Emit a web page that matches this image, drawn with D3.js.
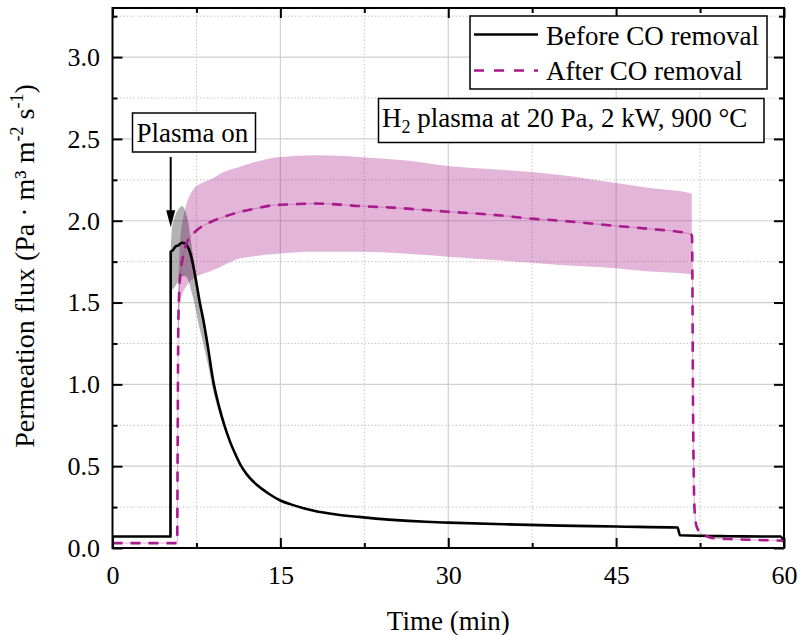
<!DOCTYPE html>
<html>
<head>
<meta charset="utf-8">
<script src="https://cdn.jsdelivr.net/npm/d3@7/dist/d3.min.js"></script>
<style>
  html, body { margin: 0; padding: 0; background: #fff; }
  svg { display: block; font-family: "Liberation Serif", "Times New Roman", serif; }
</style>
</head>
<body>
<svg id="chart" width="801" height="635"></svg>
<script>
// Permeation flux during H2 plasma exposure, before and after CO removal

// x-axis ticks (min) and y-axis ticks (Pa·m³·m⁻²·s⁻¹)
const xMajorTicks = [0, 15, 30, 45, 60];
const xMinorTicks = [7.5, 22.5, 37.5, 52.5];
const yMajorTicks = [0.0, 0.5, 1.0, 1.5, 2.0, 2.5, 3.0];
const yMinorTicks = [0.25, 0.75, 1.25, 1.75, 2.25, 2.75, 3.25];

// Before CO removal: mean flux
const beforeTime = [0, 5.18, 5.2, 5.4, 5.6, 5.9, 6.2, 6.5, 6.8, 7.0, 7.2, 7.5, 7.8, 8.1, 8.5, 9.0, 9.5, 10, 10.5, 11, 11.5, 12, 13, 14, 15, 16, 17, 18, 20, 22, 25, 28, 30, 35, 40, 45, 50.5, 50.6, 50.7, 55, 59.7, 60];
const beforeFlux = [0.07, 0.07, 1.81, 1.82, 1.84, 1.85, 1.865, 1.86, 1.83, 1.79, 1.73, 1.62, 1.50, 1.40, 1.24, 1.02, 0.87, 0.75, 0.65, 0.57, 0.50, 0.45, 0.38, 0.33, 0.29, 0.265, 0.245, 0.228, 0.205, 0.19, 0.172, 0.16, 0.155, 0.145, 0.137, 0.131, 0.125, 0.10, 0.078, 0.072, 0.07, 0.035];

// Before CO removal: spread band
const beforeBandTime  = [5.2, 5.3, 5.6, 5.9, 6.2, 6.5, 6.8, 7.0, 7.3, 7.6, 8.0, 8.5, 9.0, 9.5, 10, 10.5, 11];
const beforeBandUpper = [1.82, 1.95, 2.03, 2.07, 2.09, 2.06, 1.98, 1.88, 1.74, 1.60, 1.45, 1.26, 1.05, 0.89, 0.76, 0.655, 0.57];
const beforeBandLower = [1.60, 1.58, 1.60, 1.63, 1.66, 1.66, 1.63, 1.58, 1.50, 1.40, 1.28, 1.13, 0.96, 0.83, 0.73, 0.64, 0.57];

// After CO removal: mean flux
const afterTime = [0, 5.78, 5.82, 5.88, 5.97, 6.1, 6.27, 6.6, 6.93, 7.5, 8.86, 10, 11.4, 12.5, 14.4, 16, 18, 20, 22, 25, 30, 35, 37, 40, 45, 48, 51.6, 51.78, 51.82, 51.86, 51.94, 52.03, 52.2, 52.6, 53.0, 53.7, 55, 57, 60];
const afterFlux = [0.03, 0.03, 0.6, 1.35, 1.58, 1.69, 1.77, 1.86, 1.90, 1.94, 1.995, 2.025, 2.055, 2.07, 2.095, 2.10, 2.105, 2.10, 2.09, 2.08, 2.055, 2.03, 2.015, 2.0, 1.968, 1.95, 1.92, 1.91, 1.6, 1.0, 0.42, 0.21, 0.13, 0.09, 0.075, 0.06, 0.055, 0.05, 0.045];

// After CO removal: spread band
const afterBandTime  = [5.85, 5.97, 6.1, 6.27, 6.6, 6.93, 7.2, 8.0, 8.7, 10, 11.4, 12.3, 15, 18.2, 22, 26, 30, 35, 40, 45, 48, 51.5, 51.76];
const afterBandUpper = [1.55, 1.80, 1.92, 2.00, 2.10, 2.16, 2.19, 2.23, 2.25, 2.30, 2.33, 2.35, 2.39, 2.40, 2.39, 2.37, 2.335, 2.31, 2.28, 2.23, 2.20, 2.17, 2.165];
const afterBandLower = [1.25, 1.45, 1.52, 1.56, 1.60, 1.63, 1.645, 1.675, 1.69, 1.73, 1.77, 1.78, 1.80, 1.81, 1.81, 1.80, 1.78, 1.755, 1.73, 1.71, 1.69, 1.675, 1.67];

const seriesLabels = ["Before CO removal", "After CO removal"];
const purple = "#a8198a";

const svg = d3.select("#chart");
const W = 801, H = 635;
const plot = { left: 112.5, right: 784, top: 8, bottom: 548 };

const x = d3.scaleLinear().domain([0, 60]).range([plot.left, plot.right]);
const y = d3.scaleLinear().domain([0, 3.3]).range([plot.bottom, plot.top]);

svg.append("rect").attr("width", W).attr("height", H).attr("fill", "#fff");

// grid
const grid = svg.append("g");
grid.selectAll(".gxM").data(xMajorTicks.slice(1, -1)).join("line")
  .attr("x1", d => x(d)).attr("x2", d => x(d)).attr("y1", plot.top).attr("y2", plot.bottom)
  .attr("stroke", "#cfcfcf").attr("stroke-width", 1.2);
grid.selectAll(".gxm").data(xMinorTicks).join("line")
  .attr("x1", d => x(d)).attr("x2", d => x(d)).attr("y1", plot.top).attr("y2", plot.bottom)
  .attr("stroke", "#c4c4c4").attr("stroke-width", 1).attr("stroke-dasharray", "1.5,2");
grid.selectAll(".gyM").data(yMajorTicks.slice(1)).join("line")
  .attr("y1", d => y(d)).attr("y2", d => y(d)).attr("x1", plot.left).attr("x2", plot.right)
  .attr("stroke", "#cfcfcf").attr("stroke-width", 1.2);
grid.selectAll(".gym").data(yMinorTicks).join("line")
  .attr("y1", d => y(d)).attr("y2", d => y(d)).attr("x1", plot.left).attr("x2", plot.right)
  .attr("stroke", "#c4c4c4").attr("stroke-width", 1).attr("stroke-dasharray", "1.5,2");

// bands
const zip = (t, a, b) => t.map((v, i) => ({ t: v, lo: a[i], hi: b[i] }));
const band = d3.area().x(d => x(d.t)).y0(d => y(d.lo)).y1(d => y(d.hi)).curve(d3.curveMonotoneX);

svg.append("path").datum(zip(afterBandTime, afterBandLower, afterBandUpper))
  .attr("d", band).attr("fill", purple).attr("fill-opacity", 0.32);
svg.append("path").datum(zip(beforeBandTime, beforeBandLower, beforeBandUpper))
  .attr("d", band).attr("fill", "#000").attr("fill-opacity", 0.3);

// lines
const pts = (t, v) => t.map((d, i) => ({ t: d, v: v[i] }));
const line = d3.line().x(d => x(d.t)).y(d => y(d.v)).curve(d3.curveMonotoneX);

svg.append("path").datum(pts(afterTime, afterFlux))
  .attr("d", line).attr("fill", "none").attr("stroke", purple)
  .attr("stroke-opacity", 0.35).attr("stroke-width", 1);
svg.append("path").datum(pts(beforeTime, beforeFlux))
  .attr("d", line).attr("fill", "none").attr("stroke", "#000")
  .attr("stroke-width", 2.6).attr("stroke-linejoin", "round");
svg.append("path").datum(pts(afterTime, afterFlux))
  .attr("d", line).attr("fill", "none").attr("stroke", purple)
  .attr("stroke-width", 2.6).attr("stroke-dasharray", "10,8");

// axes with inward ticks on all four sides
function styleAxis(g) {
  g.select(".domain").remove();
  g.selectAll(".tick line").attr("stroke", "#000").attr("stroke-width", 2);
}
const bottomAxis = svg.append("g").attr("transform", `translate(0,${plot.bottom})`)
  .call(d3.axisBottom(x).tickValues(xMajorTicks).tickSize(-10).tickFormat(d3.format("d")));
bottomAxis.call(styleAxis);
bottomAxis.selectAll(".tick text").attr("y", 36).attr("dy", 0)
  .attr("font-size", 26).attr("font-family", "Liberation Serif").attr("fill", "#000");
svg.append("g").attr("transform", `translate(0,${plot.bottom})`)
  .call(d3.axisBottom(x).tickValues(xMinorTicks).tickSize(-5).tickFormat(""))
  .call(styleAxis);
svg.append("g").attr("transform", `translate(0,${plot.top})`)
  .call(d3.axisTop(x).tickValues(xMajorTicks).tickSize(-10).tickFormat(""))
  .call(styleAxis);
svg.append("g").attr("transform", `translate(0,${plot.top})`)
  .call(d3.axisTop(x).tickValues(xMinorTicks).tickSize(-5).tickFormat(""))
  .call(styleAxis);

const leftAxis = svg.append("g").attr("transform", `translate(${plot.left},0)`)
  .call(d3.axisLeft(y).tickValues(yMajorTicks).tickSize(-10).tickFormat(d3.format(".1f")));
leftAxis.call(styleAxis);
leftAxis.selectAll(".tick text").attr("x", -12.5).attr("dy", "0.32em")
  .attr("font-size", 26).attr("font-family", "Liberation Serif").attr("fill", "#000");
svg.append("g").attr("transform", `translate(${plot.left},0)`)
  .call(d3.axisLeft(y).tickValues(yMinorTicks).tickSize(-5).tickFormat(""))
  .call(styleAxis);
svg.append("g").attr("transform", `translate(${plot.right},0)`)
  .call(d3.axisRight(y).tickValues(yMajorTicks).tickSize(-10).tickFormat(""))
  .call(styleAxis);
svg.append("g").attr("transform", `translate(${plot.right},0)`)
  .call(d3.axisRight(y).tickValues(yMinorTicks).tickSize(-5).tickFormat(""))
  .call(styleAxis);

// frame
svg.append("rect")
  .attr("x", plot.left).attr("y", plot.top)
  .attr("width", plot.right - plot.left).attr("height", plot.bottom - plot.top)
  .attr("fill", "none").attr("stroke", "#000").attr("stroke-width", 2);

// axis titles
svg.append("text").attr("x", (plot.left + plot.right) / 2).attr("y", 630)
  .attr("text-anchor", "middle").attr("font-size", 27).text("Time (min)");

const yTitle = svg.append("text")
  .attr("transform", "translate(34,266) rotate(-90)")
  .attr("text-anchor", "middle").attr("font-size", 28);
yTitle.append("tspan").text("Permeation flux (Pa \u00B7 m\u00B3 m");
yTitle.append("tspan").attr("font-size", 18).attr("dy", -11).text("-2");
yTitle.append("tspan").attr("dy", 11).text(" s");
yTitle.append("tspan").attr("font-size", 18).attr("dy", -11).text("-1");
yTitle.append("tspan").attr("dy", 11).text(")");

// legend
const legend = svg.append("g");
legend.append("rect").attr("x", 470).attr("y", 16).attr("width", 297).attr("height", 73)
  .attr("fill", "#fff").attr("stroke", "#000").attr("stroke-width", 1.5);
const legendRows = [
  { label: seriesLabels[0], color: "#000", dash: null, ly: 34.5, ty: 45 },
  { label: seriesLabels[1], color: purple, dash: "10,10", ly: 70.5, ty: 80 }
];
legendRows.forEach(r => {
  legend.append("line").attr("x1", 474).attr("x2", 538).attr("y1", r.ly).attr("y2", r.ly)
    .attr("stroke", r.color).attr("stroke-width", 2.6).attr("stroke-dasharray", r.dash);
  legend.append("text").attr("x", 546).attr("y", r.ty).attr("font-size", 27).text(r.label);
});

// condition box
svg.append("rect").attr("x", 378.5).attr("y", 98.5).attr("width", 385.5).attr("height", 44)
  .attr("fill", "#fff").attr("stroke", "#000").attr("stroke-width", 1.5);
const cond = svg.append("text").attr("x", 382).attr("y", 127).attr("font-size", 27);
cond.append("tspan").text("H");
cond.append("tspan").attr("font-size", 18).attr("dy", 6).text("2");
cond.append("tspan").attr("dy", -6).text(" plasma at 20 Pa, 2 kW, 900 \u00B0C");

// plasma-on marker
svg.append("rect").attr("x", 132.5).attr("y", 113).attr("width", 123).attr("height", 39)
  .attr("fill", "#fff").attr("stroke", "#000").attr("stroke-width", 1.5);
svg.append("text").attr("x", 136.5).attr("y", 142).attr("font-size", 27).text("Plasma on");

const arrowX = x(5.2);
const tipY = y(1.96);
svg.append("line").attr("x1", arrowX).attr("x2", arrowX).attr("y1", 157).attr("y2", tipY - 14)
  .attr("stroke", "#000").attr("stroke-width", 2);
svg.append("path")
  .attr("d", `M${arrowX - 4.5},${tipY - 17} L${arrowX + 4.5},${tipY - 17} L${arrowX},${tipY} Z`)
  .attr("fill", "#000");
</script>
</body>
</html>
